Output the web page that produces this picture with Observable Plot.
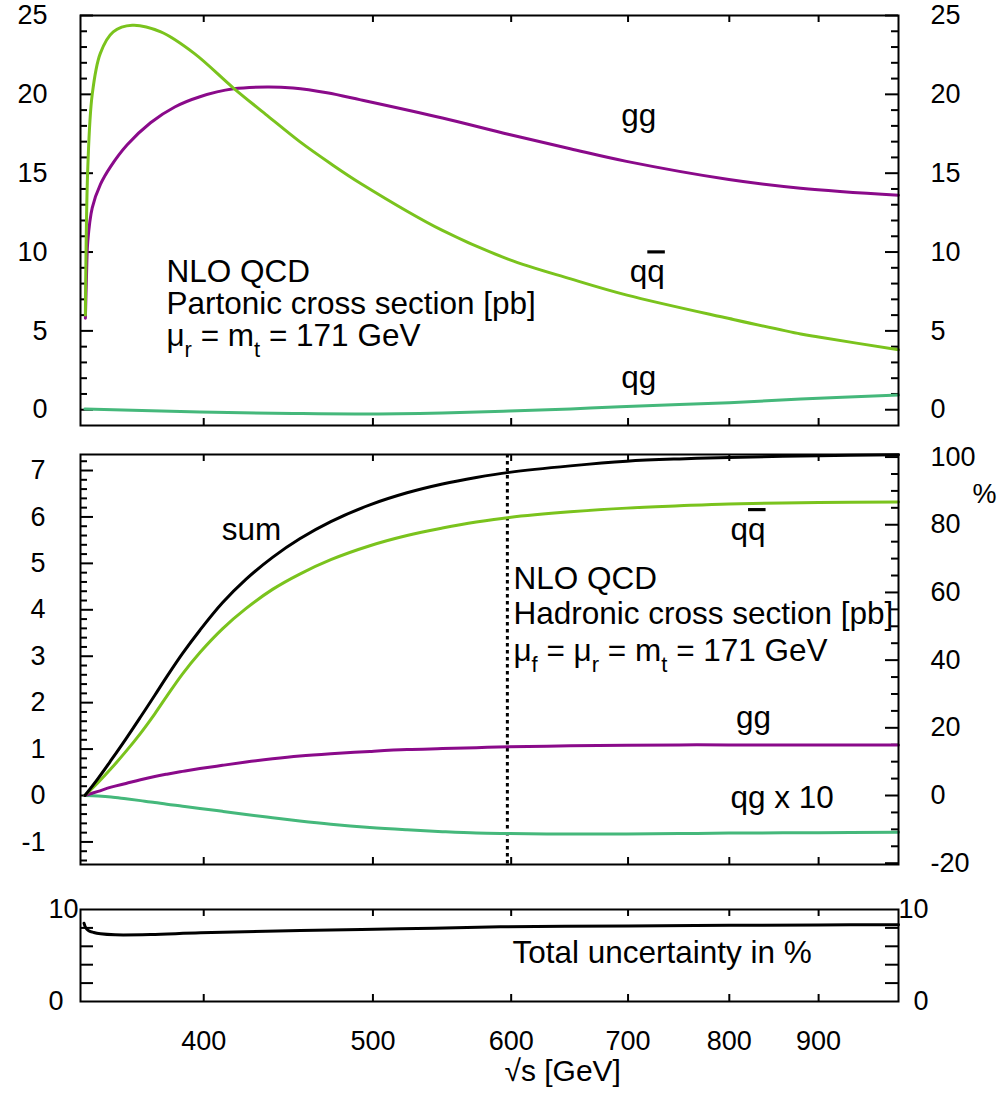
<!DOCTYPE html>
<html><head><meta charset="utf-8">
<script src="https://cdn.jsdelivr.net/npm/d3@7"></script>
<script src="https://cdn.jsdelivr.net/npm/@observablehq/plot@0.6"></script>
<style>
body{margin:0;background:#fff;}
#chart{position:relative;width:1004px;height:1100px;background:#fff;}
#chart svg{position:absolute;left:0;overflow:visible;}
</style></head><body><div id="chart"></div>
<script>
// ---------- data ----------
const xDomain = [340, 1000];
const xTickValues = [400, 500, 600, 700, 800, 900];

// top panel: partonic cross sections [pb]
const qqbarPartonicEnergy = [342.2, 343.3, 345.3, 349, 355, 364, 378, 395, 416, 435, 454, 473, 492, 548, 598, 649, 699, 800, 879, 900, 1000];
const qqbarPartonic       = [6.0, 15.4, 20.0, 22.6, 23.96, 24.38, 23.96, 22.6, 20.4, 18.65, 17.0, 15.6, 14.35, 11.37, 9.54, 8.3, 7.27, 5.78, 4.8, 4.61, 3.8];
const ggPartonicEnergy = [342.2, 342.7, 343.3, 345.3, 349.1, 353.7, 361.6, 372.9, 385, 398, 416, 435, 450, 470.6, 492, 548, 598.5, 648.6, 698.6, 799.6, 878.8, 1000];
const ggPartonic       = [5.8, 8.5, 10.7, 12.8, 14.3, 15.4, 16.8, 18.2, 19.2, 19.85, 20.35, 20.47, 20.4, 20.1, 19.65, 18.5, 17.45, 16.55, 15.75, 14.6, 14.05, 13.6];
const qgPartonicEnergy = [342, 398, 450, 492, 548, 598.5, 649, 692.6, 800, 879, 1000];
const qgPartonic       = [0.05, -0.15, -0.24, -0.27, -0.2, -0.08, 0.05, 0.19, 0.45, 0.68, 0.93];
const topMajor = [0, 5, 10, 15, 20, 25];
const topMinor = d3.range(1, 25).filter(v => v % 5 !== 0);

// middle panel: hadronic cross sections [pb]
const hadronicEnergy = [342, 348, 354, 361, 368, 375, 381, 389, 398, 410, 423, 438, 454, 473, 498, 523, 548, 573, 598.5, 648.6, 698.6, 749, 799.6, 900, 1000];
const sumHadronic    = [0, 0.37, 0.76, 1.22, 1.69, 2.16, 2.56, 3.06, 3.56, 4.15, 4.66, 5.13, 5.53, 5.90, 6.26, 6.52, 6.71, 6.85, 6.96, 7.10, 7.20, 7.25, 7.28, 7.32, 7.34];
const qqbarHadronic  = [0, 0.28, 0.58, 0.95, 1.34, 1.76, 2.14, 2.62, 3.08, 3.59, 4.03, 4.44, 4.77, 5.08, 5.38, 5.60, 5.76, 5.89, 5.99, 6.11, 6.19, 6.24, 6.28, 6.31, 6.32];
const ggHadronic     = [0, 0.09, 0.18, 0.26, 0.34, 0.41, 0.46, 0.52, 0.58, 0.65, 0.72, 0.79, 0.85, 0.90, 0.95, 0.99, 1.01, 1.03, 1.05, 1.07, 1.08, 1.09, 1.09, 1.09, 1.09];
const qgHadronicX10  = [0, -0.01, -0.03, -0.07, -0.11, -0.15, -0.19, -0.23, -0.28, -0.34, -0.41, -0.48, -0.55, -0.62, -0.69, -0.74, -0.78, -0.81, -0.82, -0.83, -0.83, -0.82, -0.81, -0.80, -0.79];
const cutEnergy = [597];
const midMajor = [-1, 0, 1, 2, 3, 4, 5, 6, 7];
const midMinor = d3.range(-7, 37).map(i => i / 5).filter(v => Math.abs(v - Math.round(v)) > 1e-9);
const pctRef = 7.29;               // pb that corresponds to 100 %
const pctMajor = [-20, 0, 20, 40, 60, 80, 100];
const pctMinor = d3.range(-15, 100, 5).filter(v => v % 20 !== 0);

// bottom panel: total uncertainty [%]
const uncEnergy  = [341.6, 342.4, 343.7, 346, 349.1, 355.9, 372.9, 398.3, 454.3, 518.5, 591.7, 700, 800, 900, 1000];
const uncPercent = [8.5, 8.0, 7.7, 7.5, 7.36, 7.25, 7.28, 7.47, 7.72, 7.9, 8.12, 8.22, 8.28, 8.32, 8.35];
const botMajor = [0, 10];
const botMinor = [2, 4, 6, 8];

// ---------- helpers ----------
const fontFamily = '"Liberation Sans", Arial, Helvetica, sans-serif';
const COL = {qqbar: "#7ac31d", gg: "#8a0a8a", qg: "#45b87b", sum: "#000000"};
const W = 1004, ML = 80, MR = 106, FW = W - ML - MR;
const ANN = 31.5;
const series = (E, V) => E.map((e, i) => ({e, v: V[i]}));
const line = (E, V, stroke) => Plot.line(series(E, V), {x: "e", y: "v", stroke, strokeWidth: 3, curve: "catmull-rom"});
const xTicks = h => [
  Plot.tickX(xTickValues, {x: d => d, insetBottom: h - 7, stroke: "black", strokeWidth: 2}),
  Plot.tickX(xTickValues, {x: d => d, insetTop: h - 7, stroke: "black", strokeWidth: 2})
];
const yTicks = (vals, len, side) => Plot.tickY(vals, {y: d => d, stroke: "black", strokeWidth: 2,
  [side === "left" ? "insetRight" : "insetLeft"]: FW - len});
const label = (txt, x, y, opts = {}) => Plot.text([txt], {x: () => x, y: () => y, text: d => d,
  fontSize: ANN, fill: "black", textAnchor: "middle", ...opts});
const style = {fontFamily, fontSize: "27px", color: "black", background: "transparent", overflow: "visible"};

function richText(svg) {
  const ns = "http://www.w3.org/2000/svg";
  d3.select(svg).selectAll("text").each(function () {
    const s = this.textContent;
    if (!/[_~]/.test(s)) return;
    this.textContent = "";
    let buf = "", shifted = false;
    const flush = () => {
      if (!buf) return;
      const t = document.createElementNS(ns, "tspan");
      t.textContent = buf;
      if (shifted) { t.setAttribute("dy", "-11"); shifted = false; }
      this.appendChild(t); buf = "";
    };
    for (let i = 0; i < s.length; i++) {
      const c = s[i];
      if ((c === "_" || c === "~") && i + 1 < s.length) {
        flush();
        const t = document.createElementNS(ns, "tspan");
        t.textContent = s[i + 1];
        if (c === "_") {
          t.setAttribute("dy", shifted ? "0" : "11");
          t.setAttribute("font-size", "22");
          shifted = true;
        } else {
          if (shifted) { t.setAttribute("dy", "-11"); shifted = false; }
          t.style.textDecoration = "overline";
          t.style.textDecorationThickness = "2px";
        }
        this.appendChild(t);
        i++;
      } else buf += c;
    }
    flush();
  });
  return svg;
}

// ---------- panel 1: partonic ----------
const p1 = Plot.plot({
  width: W, height: 440, marginLeft: ML, marginRight: MR, marginTop: 15, marginBottom: 15,
  style,
  x: {type: "log", domain: xDomain, axis: null},
  y: {domain: [-1, 25], axis: null},
  marks: [
    Plot.axisY(topMajor, {anchor: "left", tickSize: 0, tickPadding: 33, fontSize: 27, label: null}),
    Plot.axisY(topMajor, {anchor: "right", tickSize: 0, tickPadding: 32, fontSize: 27, label: null}),
    yTicks(topMajor, 13, "left"), yTicks(topMajor, 13, "right"),
    yTicks(topMinor, 7, "left"), yTicks(topMinor, 7, "right"),
    ...xTicks(410),
    line(qgPartonicEnergy, qgPartonic, COL.qg),
    line(ggPartonicEnergy, ggPartonic, COL.gg),
    line(qqbarPartonicEnergy, qqbarPartonic, COL.qqbar),
    label("NLO QCD", 380.8, 8.72, {textAnchor: "start"}),
    label("Partonic cross section [pb]", 380.8, 6.72, {textAnchor: "start"}),
    label("μ_r = m_t = 171 GeV", 380.8, 4.70, {textAnchor: "start"}),
    label("gg", 710, 18.62),
    label("q~q", 718, 8.72),
    label("qg", 710, 2.01),
    Plot.frame({stroke: "black", strokeWidth: 2})
  ]
});

// ---------- panel 2: hadronic ----------
const p2 = Plot.plot({
  width: W, height: 440, marginLeft: ML, marginRight: MR, marginTop: 14, marginBottom: 16,
  style,
  x: {type: "log", domain: xDomain, axis: null},
  y: {domain: [-1.486, 7.345], axis: null},
  marks: [
    Plot.axisY(midMajor, {anchor: "left", tickSize: 0, tickPadding: 35, fontSize: 27, label: null, tickFormat: d => String(d)}),
    Plot.axisY(pctMajor.map(p => p * pctRef / 100), {anchor: "right", tickSize: 0, tickPadding: 32, fontSize: 27, label: null,
      tickFormat: d => String(Math.round(d * 100 / pctRef))}),
    yTicks(midMajor, 13, "left"), yTicks(midMinor, 7, "left"),
    yTicks(pctMajor.map(p => p * pctRef / 100), 13, "right"),
    yTicks(pctMinor.map(p => p * pctRef / 100), 7, "right"),
    ...xTicks(410),
    Plot.ruleX(cutEnergy, {x: d => d, stroke: "black", strokeWidth: 3, strokeDasharray: "3.5,3.5"}),
    line(hadronicEnergy, qgHadronicX10, COL.qg),
    line(hadronicEnergy, ggHadronic, COL.gg),
    line(hadronicEnergy, qqbarHadronic, COL.qqbar),
    line(hadronicEnergy, sumHadronic, COL.sum),
    label("sum", 426, 5.72),
    label("q~q", 820, 5.72),
    label("NLO QCD", 601.8, 4.66, {textAnchor: "start"}),
    label("Hadronic cross section [pb]", 601.8, 3.91, {textAnchor: "start"}),
    label("μ_f = μ_r = m_t = 171 GeV", 601.8, 3.11, {textAnchor: "start"}),
    label("gg", 826, 1.67),
    label("qg x 10", 801.3, -0.05, {textAnchor: "start"}),
    label("%", 1000, 6.49, {dx: 86, fontSize: 27}),
    Plot.frame({stroke: "black", strokeWidth: 2})
  ]
});

// ---------- panel 3: uncertainty ----------
const p3 = Plot.plot({
  width: W, height: 220, marginLeft: ML, marginRight: MR, marginTop: 29, marginBottom: 99,
  style,
  x: {type: "log", domain: xDomain, axis: null},
  y: {domain: [0, 10], axis: null},
  marks: [
    Plot.axisY(botMajor, {anchor: "left", tickSize: 0, tickPadding: 32, fontSize: 27, label: null, textAnchor: "start"}),
    Plot.axisY(botMajor, {anchor: "right", tickSize: 0, tickPadding: 30, fontSize: 27, label: null, textAnchor: "end"}),
    Plot.axisX(xTickValues, {anchor: "bottom", tickSize: 0, tickPadding: 29, fontSize: 27, label: null, tickFormat: d => String(d)}),
    yTicks(botMinor, 13, "left"), yTicks(botMinor, 13, "right"),
    ...xTicks(92),
    line(uncEnergy, uncPercent, COL.sum),
    label("Total uncertainty in %", 601, 5.27, {textAnchor: "start"}),
    Plot.text(["√s [GeV]"], {x: () => 642.2, frameAnchor: "bottom", dy: 79, text: d => d, fontSize: 30, fill: "black"}),
    Plot.frame({stroke: "black", strokeWidth: 2})
  ]
});

const chart = document.getElementById("chart");
[[p1, 0], [p2, 440], [p3, 880]].forEach(([svg, top]) => {
  richText(svg);
  svg.style.top = top + "px";
  chart.appendChild(svg);
});
</script></body></html>
